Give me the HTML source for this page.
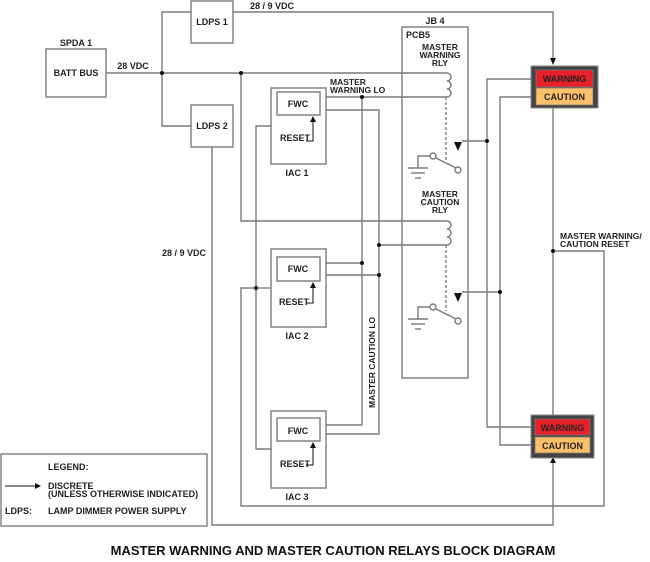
<!DOCTYPE html>
<html><head><meta charset="utf-8"><style>
body{margin:0;background:#fff}
svg{display:block}
text{font-family:"Liberation Sans",Arial,sans-serif;font-weight:bold;font-size:9px;fill:#222}
</style></head><body>
<svg width="650" height="562" viewBox="0 0 650 562" xmlns="http://www.w3.org/2000/svg">
<defs>
<marker id="ar" markerWidth="6" markerHeight="6" refX="5" refY="3" orient="auto" markerUnits="userSpaceOnUse"><path d="M0,0 L6,3 L0,6 z" fill="#111"/></marker>
</defs>
<g fill="none" stroke="#7a7a7a" stroke-width="1.4">
<rect x="46" y="49" width="60" height="48"/>
<rect x="191" y="1" width="42" height="42"/>
<rect x="191" y="105" width="42" height="42"/>
<rect x="402" y="27" width="66" height="351"/>
<rect x="1" y="454" width="206" height="72"/>
<rect x="271" y="88" width="55" height="76"/>
<rect x="277" y="92" width="43" height="23"/>
<rect x="271" y="249" width="55" height="78"/>
<rect x="277" y="257" width="43" height="24"/>
<rect x="271" y="411" width="55" height="77"/>
<rect x="277" y="418" width="43" height="23"/>
<polyline points="106,73 447,73"/>
<polyline points="191,12 162,12 162,126 191,126"/>
<polyline points="233,12 553,12 553,60"/>
<polyline points="241,73 241,221 447,221"/>
<path d="M447,73 a4,4 0 0 1 0,8 a4,4 0 0 1 0,8 a4,4 0 0 1 0,8"/>
<path d="M447,221 a4,4 0 0 1 0,8 a4,4 0 0 1 0,8 a4,4 0 0 1 0,8"/>
<polyline points="326,97 447,97"/>
<polyline points="326,110 379,110 379,434 326,434"/>
<polyline points="362,97 362,425 326,425"/>
<polyline points="326,263 362,263"/>
<polyline points="326,275 379,275"/>
<polyline points="379,245 447,245"/>
<polyline points="271,126 256,126 256,449 271,449"/>
<polyline points="256,288 271,288"/>
<polyline points="256,288 241,288 241,506 604,506 604,251 553,251"/>
<polyline points="212,147 212,525 553,525 553,462"/>
<polyline points="553,108 553,415"/>
<polyline points="531,79 487,79 487,427 531,427"/>
<polyline points="531,97 500,97 500,445 531,445"/>
<polyline points="462,141 487,141"/>
<polyline points="462,292 500,292"/>
<line x1="446" y1="97" x2="446" y2="160" stroke-dasharray="3,2"/>
<line x1="446" y1="245" x2="446" y2="311" stroke-dasharray="3,2"/>
<polyline points="418,168 418,156 430,156"/>
<circle cx="433" cy="156" r="3" fill="#fff"/>
<line x1="436" y1="158" x2="456" y2="168"/>
<circle cx="458" cy="170" r="3" fill="#fff"/>
<line x1="408" y1="168" x2="428" y2="168"/><line x1="411" y1="173" x2="425" y2="173"/><line x1="415" y1="178" x2="421" y2="178"/>
<polyline points="418,319 418,307 430,307"/>
<circle cx="433" cy="307" r="3" fill="#fff"/>
<line x1="436" y1="309" x2="456" y2="319"/>
<circle cx="458" cy="321" r="3" fill="#fff"/>
<line x1="408" y1="319" x2="428" y2="319"/><line x1="411" y1="324" x2="425" y2="324"/><line x1="415" y1="329" x2="421" y2="329"/>
</g>
<g stroke="#111" stroke-width="1" fill="none">
<polyline points="306,141 313,141 313,117" marker-end="url(#ar)"/>
<polyline points="306,303 313,303 313,283" marker-end="url(#ar)"/>
<polyline points="306,465 313,465 313,443" marker-end="url(#ar)"/>
<line x1="5" y1="486" x2="40" y2="486" marker-end="url(#ar)"/>
</g>
<path d="M550,58 L556,58 L553,65 z" fill="#111"/>
<path d="M550,463 L556,463 L553,457 z" fill="#111"/>
<path d="M454,142 L462,142 L458,151 z" fill="#111"/>
<path d="M454,293 L462,293 L458,302 z" fill="#111"/>
<g fill="#111">
<circle cx="162" cy="73" r="2"/><circle cx="241" cy="73" r="2"/>
<circle cx="362" cy="97" r="2"/><circle cx="379" cy="245" r="2"/>
<circle cx="362" cy="263" r="2"/><circle cx="379" cy="275" r="2"/>
<circle cx="256" cy="288" r="2"/><circle cx="487" cy="141" r="2"/>
<circle cx="500" cy="292" r="2"/><circle cx="553" cy="251" r="2"/>
</g>
<rect x="531" y="66" width="67" height="42" fill="#444" stroke="#888" stroke-width="1"/>
<rect x="536" y="70" width="57" height="17" fill="#e8202a" stroke="#777" stroke-width="0.8"/>
<rect x="536" y="88" width="57" height="17" fill="#fdc06a" stroke="#777" stroke-width="0.8"/>
<text x="564.5" y="82" text-anchor="middle">WARNING</text>
<text x="564.5" y="100" text-anchor="middle">CAUTION</text>
<rect x="531" y="415" width="63" height="43" fill="#444" stroke="#888" stroke-width="1"/>
<rect x="535" y="419" width="55" height="16" fill="#e8202a" stroke="#777" stroke-width="0.8"/>
<rect x="535" y="437" width="55" height="16" fill="#fdc06a" stroke="#777" stroke-width="0.8"/>
<text x="562.5" y="431" text-anchor="middle">WARNING</text>
<text x="562.5" y="449" text-anchor="middle">CAUTION</text>
<text x="76" y="46" text-anchor="middle">SPDA 1</text>
<text x="76" y="76" text-anchor="middle">BATT BUS</text>
<text x="133" y="69" text-anchor="middle">28 VDC</text>
<text x="212" y="25" text-anchor="middle">LDPS 1</text>
<text x="212" y="129" text-anchor="middle">LDPS 2</text>
<text x="250" y="9">28 / 9 VDC</text>
<text x="162" y="256">28 / 9 VDC</text>
<text x="435" y="24" text-anchor="middle">JB 4</text>
<text x="406" y="38">PCB5</text>
<text x="440" y="50" text-anchor="middle" style="font-size:8.5px">MASTER</text>
<text x="440" y="58" text-anchor="middle" style="font-size:8.5px">WARNING</text>
<text x="440" y="66" text-anchor="middle" style="font-size:8.5px">RLY</text>
<text x="440" y="197" text-anchor="middle" style="font-size:8.5px">MASTER</text>
<text x="440" y="205" text-anchor="middle" style="font-size:8.5px">CAUTION</text>
<text x="440" y="213" text-anchor="middle" style="font-size:8.5px">RLY</text>
<text x="330" y="85" style="font-size:8.5px">MASTER</text>
<text x="330" y="93" style="font-size:8.5px">WARNING LO</text>
<text x="560" y="239" style="font-size:8.5px">MASTER WARNING/</text>
<text x="560" y="247" style="font-size:8.5px">CAUTION RESET</text>
<text transform="translate(375,408) rotate(-90)" style="font-size:8.5px">MASTER CAUTION LO</text>
<text x="298" y="107" text-anchor="middle">FWC</text>
<text x="295" y="141" text-anchor="middle">RESET</text>
<text x="297" y="176" text-anchor="middle">IAC 1</text>
<text x="298" y="272" text-anchor="middle">FWC</text>
<text x="294" y="305" text-anchor="middle">RESET</text>
<text x="297" y="339" text-anchor="middle">IAC 2</text>
<text x="298" y="434" text-anchor="middle">FWC</text>
<text x="295" y="467" text-anchor="middle">RESET</text>
<text x="297" y="500" text-anchor="middle">IAC 3</text>
<text x="48" y="470">LEGEND:</text>
<text x="48" y="489">DISCRETE</text>
<text x="48" y="497">(UNLESS OTHERWISE INDICATED)</text>
<text x="5" y="514">LDPS:</text>
<text x="48" y="514">LAMP DIMMER POWER SUPPLY</text>
<text x="333" y="555" text-anchor="middle" style="font-size:13px;fill:#111">MASTER WARNING AND MASTER CAUTION RELAYS BLOCK DIAGRAM</text>
</svg>
</body></html>
